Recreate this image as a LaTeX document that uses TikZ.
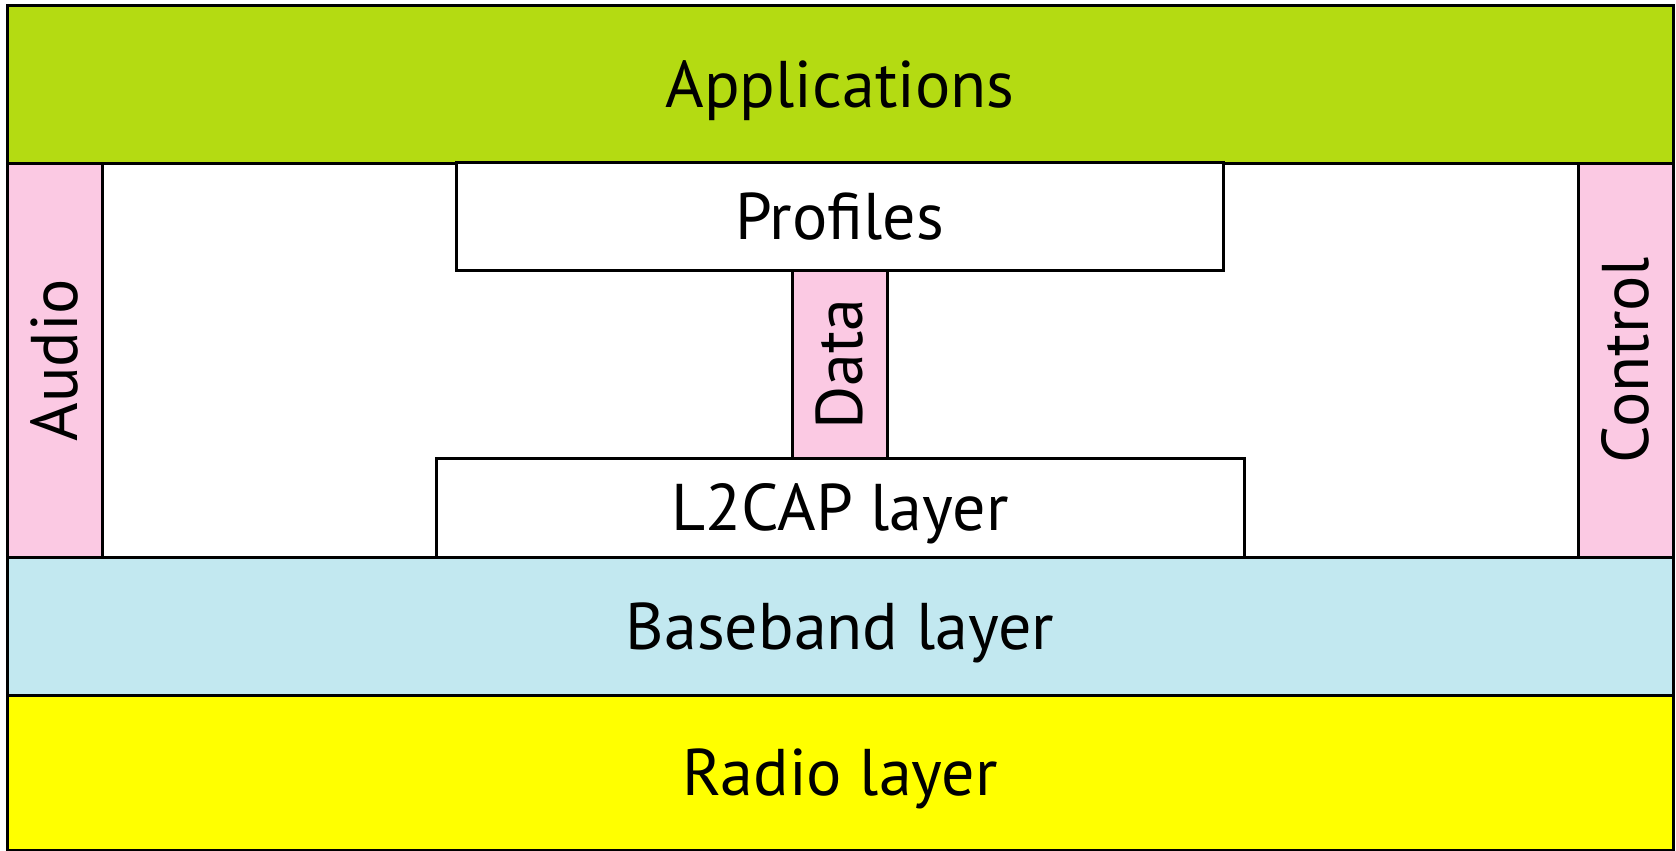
\documentclass[tikz,border=0pt]{standalone}
\usepackage{fontspec}
\setmainfont{PT Sans}
\definecolor{appgreen}{HTML}{B4DB12}
\definecolor{chanpink}{HTML}{FBC9E3}
\definecolor{baseblue}{HTML}{C2E8F0}
\definecolor{radioyellow}{HTML}{FFFF00}
\begin{document}
\begin{tikzpicture}[x=1pt,y=-1pt,
  box/.style={draw, line width=3pt, inner sep=0pt, outer sep=0pt, rectangle,
    font=\fontsize{66}{70}\selectfont, text height=46pt, text depth=0pt}]
\useasboundingbox (0,0) rectangle (1676,851);
\fill[white] (0,0) rectangle (1676,851);
\node[box, fill=appgreen, minimum width=1666pt, minimum height=157pt] (app) at (840,84.5) {Applications};
\node[box, fill=baseblue, minimum width=1666pt, minimum height=138pt] (base) at (840,626) {Baseband layer};
\node[box, fill=radioyellow, minimum width=1666pt, minimum height=155pt] (radio) at (840,772.5) {Radio layer};
\node[box, fill=chanpink, rotate=90, minimum width=394pt, minimum height=95pt] (audio) at (54.5,360) {Audio};
\node[box, fill=chanpink, rotate=90, minimum width=394pt, minimum height=95pt] (control) at (1625.5,360) {Control};
\node[box, fill=white, minimum width=767pt, minimum height=108pt] (profiles) at (839.5,216) {Profiles};
\node[box, fill=chanpink, rotate=90, minimum width=188pt, minimum height=95pt] (data) at (839.5,364) {Data};
\node[box, fill=white, minimum width=808pt, minimum height=99pt] (l2cap) at (840,507.5) {L2CAP layer};
\end{tikzpicture}
\end{document}
